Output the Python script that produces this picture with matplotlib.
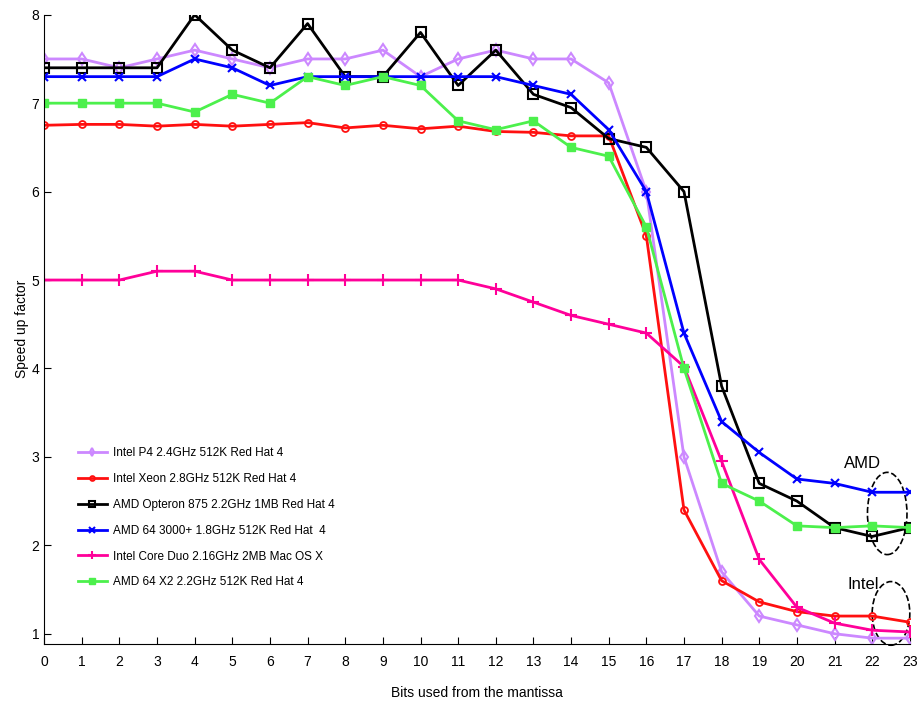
import numpy as np
import matplotlib.pyplot as plt
from matplotlib.patches import Ellipse

plt.rcParams['font.family'] = ['Liberation Sans', 'DejaVu Sans']
plt.rcParams['font.size'] = 9

bits = list(range(24))

p4 = [7.5, 7.5, 7.4, 7.5, 7.6, 7.5, 7.4, 7.5, 7.5, 7.6, 7.3, 7.5,
      7.6, 7.5, 7.5, 7.23, 6.0, 3.0, 1.7, 1.2, 1.1, 1.0, 0.95, 0.95]
xeon = [6.75, 6.76, 6.76, 6.74, 6.76, 6.74, 6.76, 6.78, 6.72, 6.75, 6.71, 6.74,
        6.68, 6.67, 6.63, 6.63, 5.5, 2.4, 1.6, 1.36, 1.25, 1.2, 1.2, 1.13]
opteron = [7.4, 7.4, 7.4, 7.4, 8.0, 7.6, 7.4, 7.9, 7.3, 7.3, 7.8, 7.2,
           7.6, 7.1, 6.95, 6.6, 6.5, 6.0, 3.8, 2.7, 2.5, 2.2, 2.1, 2.2]
amd3000 = [7.3, 7.3, 7.3, 7.3, 7.5, 7.4, 7.2, 7.3, 7.3, 7.3, 7.3, 7.3,
           7.3, 7.2, 7.1, 6.7, 6.0, 4.4, 3.4, 3.05, 2.75, 2.7, 2.6, 2.6]
coreduo = [5.0, 5.0, 5.0, 5.1, 5.1, 5.0, 5.0, 5.0, 5.0, 5.0, 5.0, 5.0,
           4.9, 4.75, 4.6, 4.5, 4.4, 4.02, 2.95, 1.84, 1.3, 1.12, 1.04, 1.02]
x2 = [7.0, 7.0, 7.0, 7.0, 6.9, 7.1, 7.0, 7.3, 7.2, 7.3, 7.2, 6.8,
      6.7, 6.8, 6.5, 6.4, 5.6, 4.0, 2.7, 2.5, 2.22, 2.2, 2.22, 2.2]

labels = ['Intel P4 2.4GHz 512K Red Hat 4',
          'Intel Xeon 2.8GHz 512K Red Hat 4',
          'AMD Opteron 875 2.2GHz 1MB Red Hat 4',
          'AMD 64 3000+ 1.8GHz 512K Red Hat  4',
          'Intel Core Duo 2.16GHz 2MB Mac OS X',
          'AMD 64 X2 2.2GHz 512K Red Hat 4']

fig = plt.figure(figsize=(9.19, 7.02), dpi=100)
ax = fig.add_axes([0.048, 0.083, 0.942, 0.896])

ax.plot(bits, p4, color='#cc88ff', lw=2, marker='d', ms=6, mfc='none', mew=1.5, label=labels[0])
ax.plot(bits, xeon, color='#ff1010', lw=2, marker='o', ms=5, mfc='none', mew=1.3, label=labels[1])
ax.plot(bits, opteron, color='black', lw=2, marker='s', ms=7, mfc='none', mew=1.5, label=labels[2])
ax.plot(bits, amd3000, color='#0000ff', lw=2, marker='x', ms=6, mew=1.5, label=labels[3])
ax.plot(bits, coreduo, color='#ff0099', lw=2, marker='+', ms=8, mew=1.5, label=labels[4])
ax.plot(bits, x2, color='#4cf04c', lw=2, marker='s', ms=6, label=labels[5])

# annotation ellipses
ax.add_patch(Ellipse((22.4, 2.36), 1.05, 0.93, fill=False, ls='--', lw=1.2, ec='black'))
ax.add_patch(Ellipse((22.5, 1.23), 1.0, 0.72, fill=False, ls='--', lw=1.2, ec='black', clip_on=False))
ax.text(21.25, 2.92, 'AMD', fontsize=12, va='center')
ax.text(21.35, 1.56, 'Intel', fontsize=12, va='center')

ax.set_xlim(0, 23)
ax.set_ylim(0.887, 8)
ax.set_xticks(bits)
ax.set_yticks(range(1, 9))
ax.tick_params(direction='in', length=5, labelsize=10)
ax.tick_params(axis='x', pad=8)
for s in ['top', 'right']:
    ax.spines[s].set_visible(False)

ax.set_xlabel('Bits used from the mantissa', fontsize=10, labelpad=12)
ax.set_ylabel('Speed up factor', fontsize=10, labelpad=2)

ax.legend(loc='upper left', bbox_to_anchor=(0.073, 0.378), bbox_transform=fig.transFigure,
          frameon=False, fontsize=8.5, handlelength=2.5, handletextpad=0.5,
          labelspacing=1.17, markerscale=0.7)

fig.savefig('out.png', dpi=100)
